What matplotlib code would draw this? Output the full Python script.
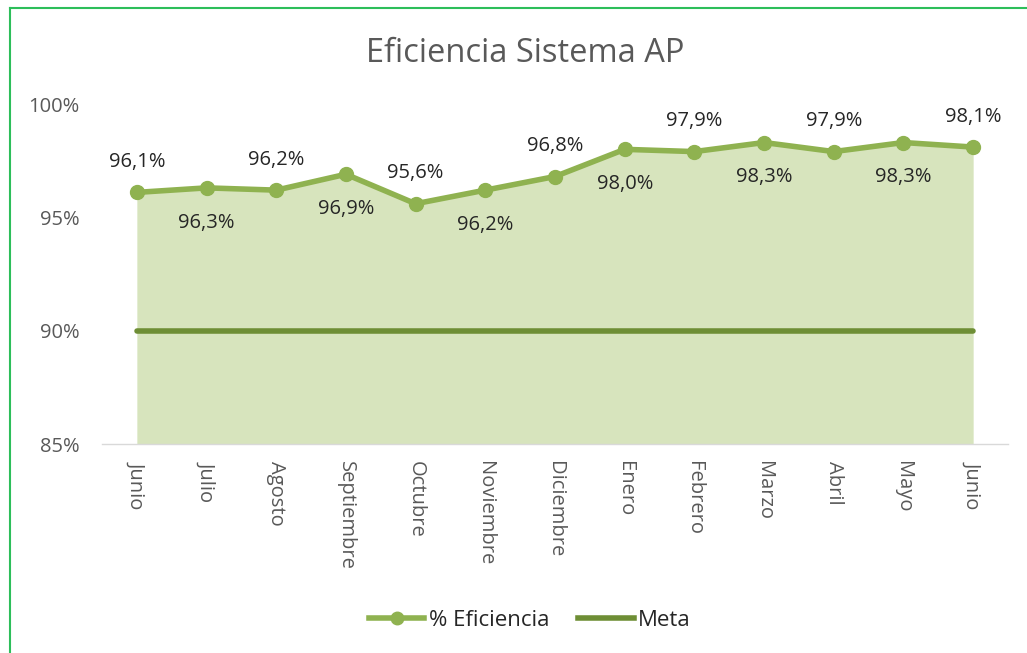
import matplotlib
matplotlib.use("Agg")
import matplotlib.pyplot as plt
from matplotlib.lines import Line2D

months = ["Junio", "Julio", "Agosto", "Septiembre", "Octubre", "Noviembre", "Diciembre",
          "Enero", "Febrero", "Marzo", "Abril", "Mayo", "Junio"]
eficiencia = [96.1, 96.3, 96.2, 96.9, 95.6, 96.2, 96.8, 98.0, 97.9, 98.3, 97.9, 98.3, 98.1]
meta = [90.0] * 13
y_ticks = [85, 90, 95, 100]

plt.rcParams['font.family'] = ['Open Sans', 'DejaVu Sans']

line_c = "#8FB250"
fill_c = "#D7E4BD"
meta_c = "#6E8E35"
text_c = "#595959"

fig = plt.figure(figsize=(10.27, 6.53), dpi=100)
ax = fig.add_axes([102/1027, 1-444/653, (1008-102)/1027, (444-104)/653])

x = list(range(len(months)))
ax.fill_between(x, 85, eficiencia, color=fill_c, lw=0, zorder=1)
ax.plot(x, meta, color=meta_c, lw=4, solid_capstyle='round', zorder=2)
ax.plot(x, eficiencia, color=line_c, lw=4, marker='o', ms=10, zorder=3)

for i, v in enumerate(eficiencia):
    lbl = f"{v:.1f}%".replace('.', ',')
    off = 22 if i % 2 == 0 else -25
    ax.annotate(lbl, (i, v), xytext=(0, off), textcoords='offset points',
                ha='center', va='center', fontsize=14.5, color='#262626', zorder=5)

ax.set_xlim(-0.5, len(months) - 0.5)
ax.set_ylim(85, 100)
ax.set_yticks(y_ticks)
ax.set_yticklabels([f"{t}%" for t in y_ticks])
ax.set_xticks(x)
ax.set_xticklabels(months, rotation=270, va='top', ha='center')
ax.tick_params(axis='both', length=0, labelsize=14.5, labelcolor=text_c)
ax.tick_params(axis='y', pad=16)
ax.tick_params(axis='x', pad=12)
for s in ['top', 'right', 'left']:
    ax.spines[s].set_visible(False)
ax.spines['bottom'].set_color('#D9D9D9')
ax.spines['bottom'].set_linewidth(1)

fig.text(525/1027, 1-54/653, "Eficiencia Sistema AP", ha='center', va='center',
         fontsize=23.5, color=text_c)

handles = [Line2D([0], [0], color=line_c, lw=4, marker='o', ms=9),
           Line2D([0], [0], color=meta_c, lw=4)]
leg = fig.legend(handles, ["% Eficiencia", "Meta"], loc='center',
                 bbox_to_anchor=(530/1027, 1-620/653),
                 ncol=2, frameon=False, handlelength=2.5, columnspacing=1.3,
                 handletextpad=0.2, prop={'size': 16})
for t in leg.get_texts():
    t.set_color('#262626')

# green frame
fig.add_artist(Line2D([10/1027, 10/1027], [0, 1-8/653], transform=fig.transFigure,
                      color="#2DBE5A", lw=1.5))
fig.add_artist(Line2D([10/1027, 1], [1-8/653, 1-8/653], transform=fig.transFigure,
                      color="#2DBE5A", lw=1.5))

fig.savefig("out.png", dpi=100)
